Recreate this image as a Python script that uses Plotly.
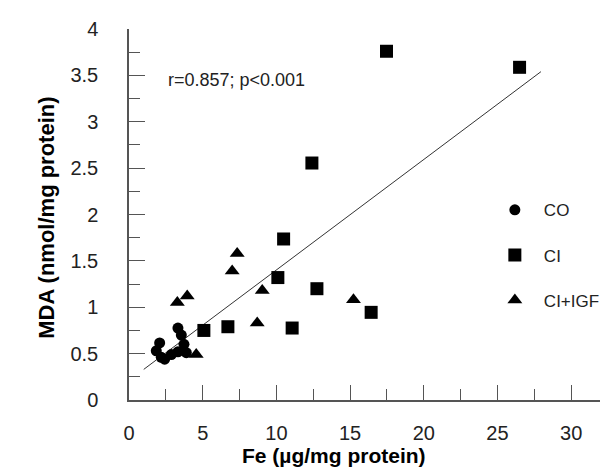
import plotly.graph_objects as go

# CO group
co_x = [3.32, 3.55, 3.73, 3.89, 2.08, 1.85, 2.19, 2.42, 2.87, 3.32]
co_y = [0.776, 0.70, 0.60, 0.51, 0.615, 0.53, 0.46, 0.44, 0.49, 0.52]
# CI group
ci_x = [17.47, 26.5, 12.41, 10.49, 10.1, 12.75, 6.71, 11.07, 5.08, 16.43]
ci_y = [3.76, 3.587, 2.555, 1.736, 1.32, 1.20, 0.79, 0.776, 0.75, 0.945]
# CI+IGF group
igf_x = [7.34, 7.0, 9.04, 15.23, 3.95, 3.28, 8.7, 4.56]
igf_y = [1.58, 1.39, 1.18, 1.08, 1.12, 1.05, 0.83, 0.49]
# regression line endpoints
fit_x = [1.0, 27.95]
fit_y = [0.33, 3.54]

stat_text = "r=0.857; p<0.001"
x_title = "Fe (µg/mg protein)"
y_title = "MDA (nmol/mg protein)"

tick_font = dict(family="Liberation Sans Narrow, Liberation Sans, Arial", size=20, color="#222")
axis_col = "#555"

fig = go.Figure()
fig.add_trace(go.Scatter(x=fit_x, y=fit_y, mode="lines", line=dict(color="#333", width=1),
                         showlegend=False, hoverinfo="skip"))
fig.add_trace(go.Scatter(x=co_x, y=co_y, mode="markers", name="CO", legendgroup="a",
                         marker=dict(symbol="circle", size=11, color="black")))
fig.add_trace(go.Scatter(x=ci_x, y=ci_y, mode="markers", name="CI", legendgroup="b",
                         marker=dict(symbol="square", size=13, color="black")))
fig.add_trace(go.Scatter(x=igf_x, y=igf_y, mode="markers", name="CI+IGF", legendgroup="c",
                         marker=dict(symbol="triangle-up", size=13, color="black")))

fig.update_layout(
    width=608, height=474,
    margin=dict(l=121, r=8, t=21, b=82),
    paper_bgcolor="white", plot_bgcolor="white",
    font=dict(family="Liberation Sans, Arial", color="#222"),
    xaxis=dict(range=[0, 32.5], dtick=5, tick0=0, ticks="inside", ticklen=15, tickwidth=1.2,
               tickcolor=axis_col, showline=True, linecolor=axis_col, linewidth=1.5,
               showgrid=False, zeroline=False, tickfont=tick_font, ticklabelstandoff=14,
               minor=dict(dtick=2.5, ticks="inside", ticklen=11, tickcolor=axis_col, tickwidth=1.2, showgrid=False)),
    yaxis=dict(range=[0, 4], dtick=0.5, tick0=0, ticks="inside", ticklen=16, tickwidth=1.2,
               tickcolor=axis_col, showline=True, linecolor=axis_col, linewidth=1.5,
               showgrid=False, zeroline=False, tickfont=tick_font, ticklabelstandoff=25,
               minor=dict(dtick=0.25, ticks="inside", ticklen=11, tickcolor=axis_col, tickwidth=1.2, showgrid=False)),
    legend=dict(x=0.745, y=0.56, xanchor="left", yanchor="top", itemwidth=48,
                tracegroupgap=20, font=dict(family="Liberation Sans, Arial", size=17, color="#222"),
                bgcolor="rgba(0,0,0,0)"),
    annotations=[
        dict(x=2.5, y=3.455, xref="x", yref="y", text=stat_text, showarrow=False,
             xanchor="left", yanchor="middle", font=dict(size=18, family="Liberation Sans, Arial", color="#222")),
        dict(x=0.428, y=-0.15, xref="paper", yref="paper", text="<b>" + x_title + "</b>", showarrow=False,
             xanchor="center", yanchor="middle", font=dict(size=21, family="Liberation Sans, Arial", color="black")),
        dict(x=-0.172, y=0.49, xref="paper", yref="paper", text="<b>" + y_title + "</b>", showarrow=False,
             textangle=-90, xanchor="center", yanchor="middle", font=dict(size=22, family="Liberation Sans, Arial", color="black")),
    ],
)

fig.write_html("out.html")
